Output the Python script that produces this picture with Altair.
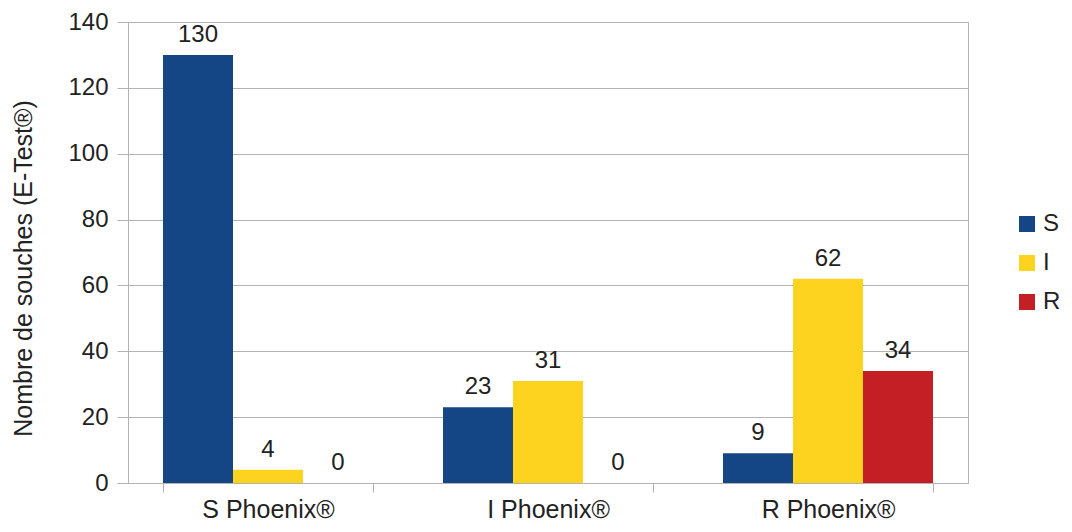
import altair as alt
import pandas as pd

categories = ["S Phoenix®", "I Phoenix®", "R Phoenix®"]
series = ["S", "I", "R"]
values_S = [130, 23, 9]
values_I = [4, 31, 62]
values_R = [0, 0, 34]
colors = ["#144686", "#fdd320", "#c51f26"]
y_ticks = [0, 20, 40, 60, 80, 100, 120, 140]

rows = []
for s, vals in zip(series, [values_S, values_I, values_R]):
    for c, v in zip(categories, vals):
        rows.append({"cat": c, "serie": s, "value": v})
df = pd.DataFrame(rows)

FONT = "Liberation Sans"
GRID = "#b3b3b3"
TXT = "#222222"

x = alt.X("cat:N", sort=categories, title=None,
          scale=alt.Scale(paddingInner=0.25, paddingOuter=0.125),
          axis=alt.Axis(tickBand="extent", labelAngle=0, labelFontSize=25,
                        labelFont=FONT, labelColor=TXT, labelPadding=5,
                        tickSize=9, tickColor=GRID, domain=False, grid=False))
xo = alt.XOffset("serie:N", sort=series)
y = alt.Y("value:Q", title="Nombre de souches (E-Test®)",
          scale=alt.Scale(domain=[0, 140], nice=False),
          axis=alt.Axis(values=y_ticks, labelFontSize=24, labelFont=FONT,
                        labelColor=TXT, labelPadding=9, tickSize=11,
                        tickColor=GRID, domainColor=GRID, gridColor=GRID,
                        titleFont=FONT, titleFontSize=25, titleFontWeight="normal",
                        titleColor=TXT, titlePadding=31, titleY=246))
color = alt.Color("serie:N", sort=series,
                  scale=alt.Scale(domain=series, range=colors),
                  legend=alt.Legend(title=None, orient="none", legendX=887, legendY=190,
                                    symbolType="square", symbolSize=256,
                                    symbolStrokeWidth=0, labelFontSize=24,
                                    labelFont=FONT, labelColor=TXT,
                                    rowPadding=15, labelOffset=4, padding=0))

bars = alt.Chart(df).mark_bar().encode(x=x, xOffset=xo, y=y, color=color)
labels = alt.Chart(df).mark_text(dy=-13, baseline="alphabetic", fontSize=24,
                                 font=FONT, color=TXT).encode(
    x=x, xOffset=xo, y=y, text="value:Q")

chart = (bars + labels).properties(
    width=840, height=461,
    autosize=alt.AutoSizeParams(type="none"),
    padding={"left": 120, "top": 14, "right": 96, "bottom": 41},
).configure_view(stroke=GRID, strokeWidth=1)

chart.save("out.html", embed_options={"renderer": "svg", "actions": False})
